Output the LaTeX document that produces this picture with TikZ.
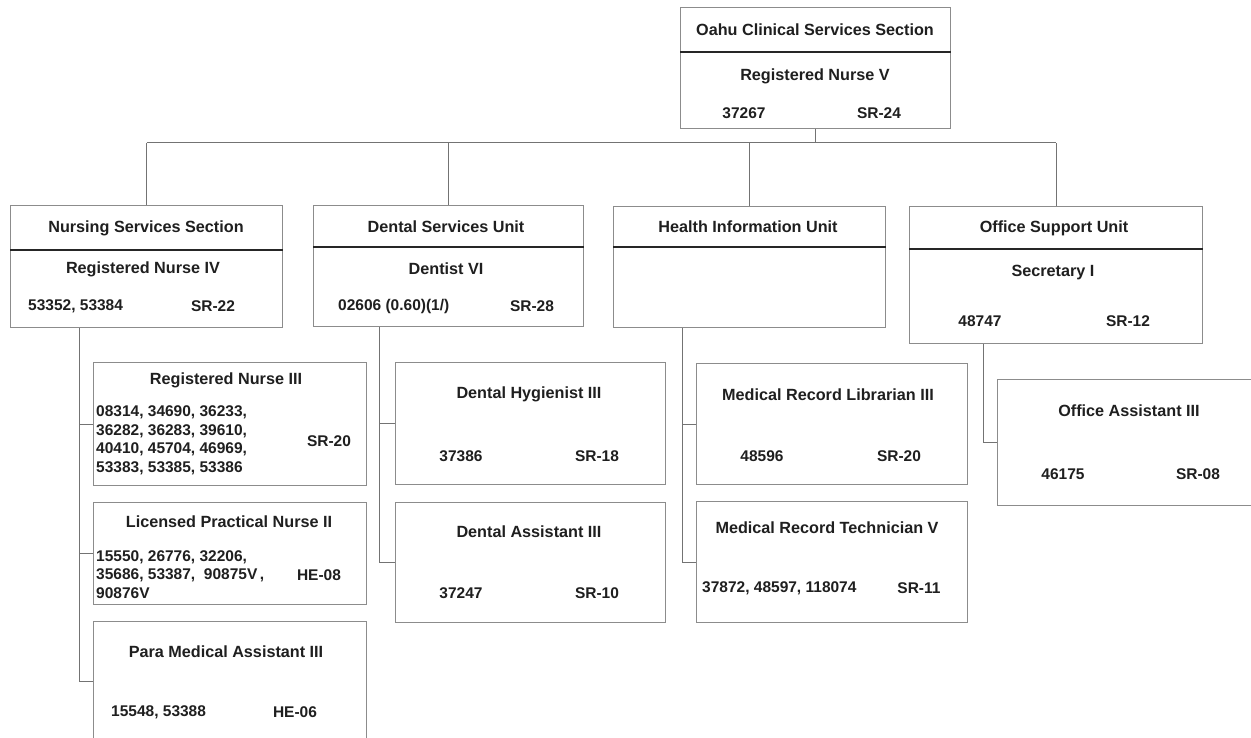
\documentclass[tikz,border=0pt]{standalone}
\usepackage{fontspec}
\setmainfont{Liberation Sans}
\begin{document}
\begin{tikzpicture}[x=1pt,y=-1pt,
  box/.style={draw=black!45, line width=1pt, inner sep=0pt, anchor=north west, fill=white},
  divider/.style={draw=black!85, line width=1.3pt},
  link/.style={draw=black!55, line width=1pt},
  txt/.style={inner sep=0pt, text=black!88, font=\fontsize{16.2}{18.5}\selectfont\bfseries},
  num/.style={inner sep=0pt, text=black!88, font=\fontsize{15.5}{18.5}\selectfont\bfseries},
  lft/.style={num, anchor=west, align=left}
]
\fill[white] (0,0) rectangle (1251,738);
\useasboundingbox (0,0) rectangle (1251,738);
\begin{scope}
\clip (0,0) rectangle (1251,738);
% ---- boxes
\node[box, minimum width=270pt, minimum height=121pt] (top) at (680,7) {};
\node[box, minimum width=272pt, minimum height=122pt] (nss) at (10,205) {};
\node[box, minimum width=270pt, minimum height=121pt] (dsu) at (313,205) {};
\node[box, minimum width=272pt, minimum height=121pt] (hiu) at (613,206) {};
\node[box, minimum width=293pt, minimum height=137pt] (osu) at (909,206) {};
\node[box, minimum width=273pt, minimum height=123pt] (rn3) at (93,362) {};
\node[box, minimum width=273pt, minimum height=102pt] (lpn) at (93,502) {};
\node[box, minimum width=273pt, minimum height=120pt] (pma) at (93,621) {};
\node[box, minimum width=270pt, minimum height=122pt] (dh) at (395,362) {};
\node[box, minimum width=270pt, minimum height=120pt] (da) at (395,502) {};
\node[box, minimum width=271pt, minimum height=121pt] (mrl) at (696,363) {};
\node[box, minimum width=271pt, minimum height=121pt] (mrt) at (696,501) {};
\node[box, minimum width=265pt, minimum height=126pt] (oa) at (997,379) {};
% ---- dividers
\coordinate (topd) at (0,52);
\coordinate (nssd) at (0,250);
\coordinate (dsud) at (0,247);
\coordinate (hiud) at (0,247);
\coordinate (osud) at (0,249);
\draw[divider] (top.west |- topd) -- (top.east |- topd);
\draw[divider] (nss.west |- nssd) -- (nss.east |- nssd);
\draw[divider] (dsu.west |- dsud) -- (dsu.east |- dsud);
\draw[divider] (hiu.west |- hiud) -- (hiu.east |- hiud);
\draw[divider] (osu.west |- osud) -- (osu.east |- osud);
% ---- connectors
\coordinate (bus) at (0,143);
\draw[link] (top.south) -- (top.south |- bus);
\draw[link] (nss.north |- bus) -- (osu.north |- bus);
\draw[link] (nss.north) -- (nss.north |- bus);
\draw[link] (dsu.north) -- (dsu.north |- bus);
\draw[link] (hiu.north) -- (hiu.north |- bus);
\draw[link] (osu.north) -- (osu.north |- bus);
\coordinate (nsp) at ([xshift=-14pt]rn3.west |- nss.south);
\draw[link] (nsp) |- (pma.west);
\draw[link] (nsp |- rn3.west) -- (rn3.west);
\draw[link] (nsp |- lpn.west) -- (lpn.west);
\coordinate (dsp) at ([xshift=-16pt]dh.west |- dsu.south);
\draw[link] (dsp) |- (da.west);
\draw[link] (dsp |- dh.west) -- (dh.west);
\coordinate (hsp) at ([xshift=-14pt]mrl.west |- hiu.south);
\draw[link] (hsp) |- (mrt.west);
\draw[link] (hsp |- mrl.west) -- (mrl.west);
\coordinate (osp) at ([xshift=-14pt]oa.west |- osu.south);
\draw[link] (osp) |- (oa.west);
% ---- texts
\node[txt] (t1) at (815,30) {Oahu Clinical Services Section};
\node[txt] (t2) at (815,76) {Registered Nurse V};
\node[num] (t3) at (744,113) {37267};
\node[num] (t4) at (879,113) {SR-24};

\node[txt] (n1) at (146,228) {Nursing Services Section};
\node[txt] (n2) at (143,269) {Registered Nurse IV};
\node[lft] (n3) at (28,306) {53352, 53384};
\node[num] (n4) at (213,306) {SR-22};

\node[txt] (d1) at (446,227) {Dental Services Unit};
\node[txt] (d2) at (446,269) {Dentist VI};
\node[lft] (d3) at (338,306) {02606 (0.60)(1/)};
\node[num] (d4) at (532,306) {SR-28};

\node[txt] (h1) at (748,227) {Health Information Unit};

\node[txt] (o1) at (1054,228) {Office Support Unit};
\node[txt] (o2) at (1053,273) {Secretary I};
\node[num] (o3) at (980,321) {48747};
\node[num] (o4) at (1128,321) {SR-12};

\node[txt] (r1) at (226,380) {Registered Nurse III};
\node[lft] (r2) at (96,440.5) {08314, 34690, 36233,\\36282, 36283, 39610,\\40410, 45704, 46969,\\53383, 53385, 53386};
\node[num] (r3) at (329,441) {SR-20};

\node[txt] (l1) at (229,522) {Licensed Practical Nurse II};
\node[lft] (l2) at (96,574.5) {15550, 26776, 32206,\\35686, 53387,\ \ 90875V\,,\\90876V};
\node[num] (l3) at (319,575) {HE-08};

\node[txt] (p1) at (226,652) {Para Medical Assistant III};
\node[lft] (p2) at (111,712) {15548, 53388};
\node[num] (p3) at (295,712) {HE-06};

\node[txt] (dh1) at (529,394) {Dental Hygienist III};
\node[num] (dh2) at (461,456) {37386};
\node[num] (dh3) at (597,456) {SR-18};

\node[txt] (da1) at (529,532) {Dental Assistant III};
\node[num] (da2) at (461,593) {37247};
\node[num] (da3) at (597,593) {SR-10};

\node[txt] (m1) at (828,395) {Medical Record Librarian III};
\node[num] (m2) at (762,456) {48596};
\node[num] (m3) at (899,456) {SR-20};

\node[txt] (mt1) at (827,528) {Medical Record Technician V};
\node[lft] (mt2) at (702,588) {37872, 48597, 118074};
\node[num] (mt3) at (919,588) {SR-11};

\node[txt] (oa1) at (1129,411) {Office Assistant III};
\node[num] (oa2) at (1063,474) {46175};
\node[num] (oa3) at (1198,474) {SR-08};
\end{scope}
\end{tikzpicture}
\end{document}
